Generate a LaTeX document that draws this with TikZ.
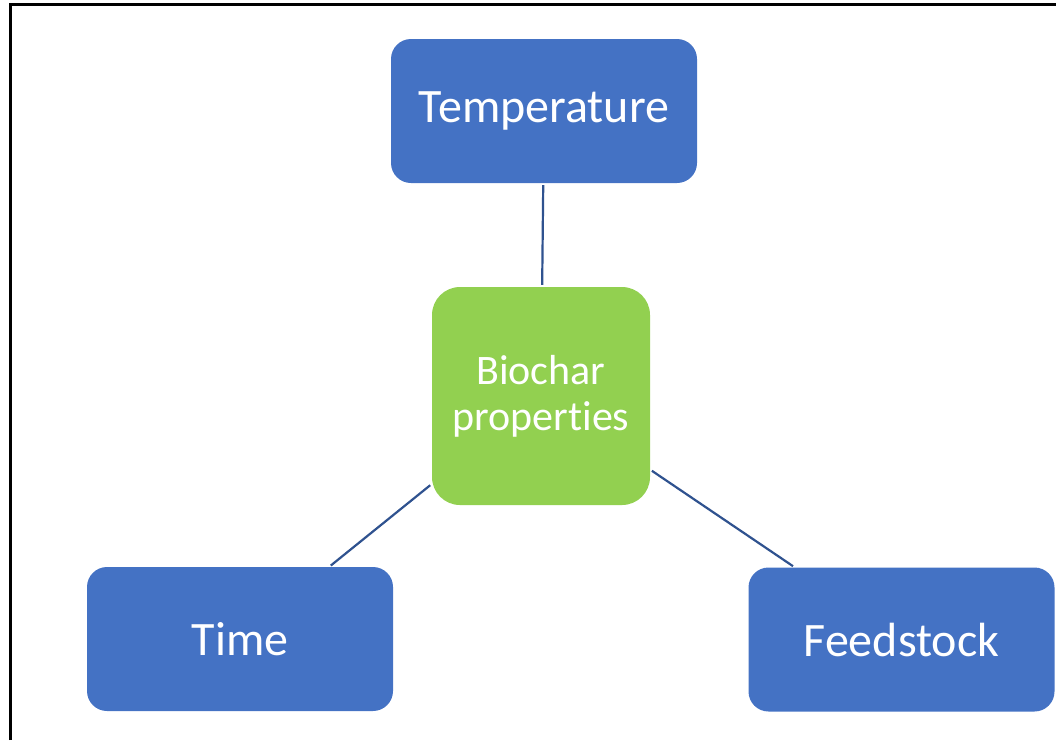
\documentclass[tikz,border=0pt]{standalone}
\usepackage{fontspec}
\setmainfont[Ligatures=NoCommon]{Carlito}
\usepackage{tikz}

\definecolor{boxblue}{HTML}{4472C4}
\definecolor{boxgreen}{HTML}{92D050}
\definecolor{linkblue}{HTML}{2F528F}

\begin{document}
\begin{tikzpicture}[x=1pt, y=-1pt,
  factor/.style={fill=boxblue, text=white, rounded corners=20pt, inner sep=0pt,
    minimum width=306pt, minimum height=144pt, font=\fontsize{48}{56}\selectfont},
  hub/.style={fill=boxgreen, text=white, rounded corners=28pt, inner sep=0pt,
    minimum width=218pt, minimum height=218pt, align=center,
    font=\fontsize{42}{46}\selectfont},
  link/.style={draw=linkblue, line width=2.2pt, shorten <=2pt, shorten >=2pt}]
\useasboundingbox (0, 0) rectangle (1056, 740);
\draw [line width=3pt] (10, 740) -- (10, 4.5) -- (1057, 4.5);
\node [factor] (temp) at (544, 111) {\raisebox{-2pt}{Temperature}};
\node [hub] (bio) at (541, 396) {Biochar\\properties};
\node [factor] (time) at (240, 639) {Time};
\node [factor] (feed) at (901.5, 639.5) {\raisebox{-5pt}{Feedstock}};
\draw [link] (temp) -- (bio);
\draw [link] (bio) -- (time);
\draw [link] (bio) -- (feed);
\end{tikzpicture}
\end{document}
